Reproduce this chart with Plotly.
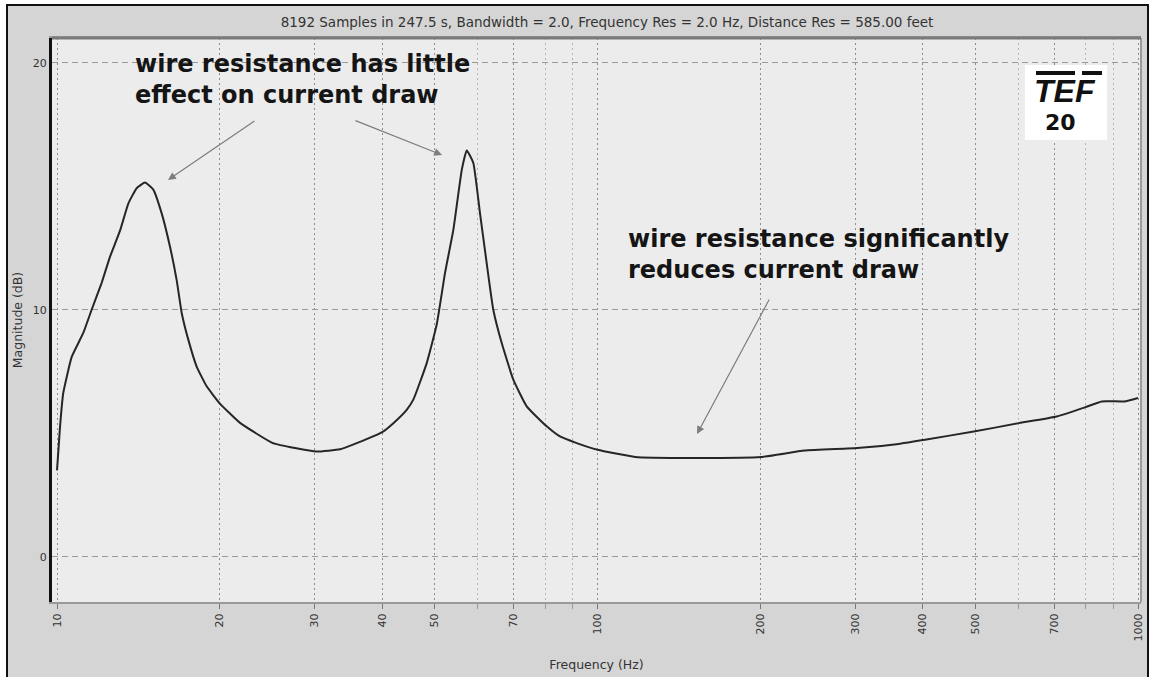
import plotly.graph_objects as go

# ---- data ----
freq_hz = [10.0, 10.13, 10.27, 10.65, 11.19, 11.59, 12.10, 12.54, 13.08, 13.55,
           14.05, 14.55, 15.07, 15.62, 16.18, 16.65, 17.01, 17.50, 18.13, 18.92,
           20.02, 21.81, 25.09, 27.56, 30.23, 33.39, 35.85, 40.11, 41.91, 44.36,
           45.63, 48.31, 50.41, 52.23, 54.12, 56.10, 57.29, 58.92, 60.62, 62.37,
           64.15, 66.50, 69.86, 73.96, 80.54, 85.22, 91.53, 100.0, 117.4, 149.4,
           201.0, 241.6, 302.4, 360.7, 403.6, 496.8, 602.4, 707.0, 798.0, 857.0,
           943.4, 1000.0]
magnitude_db = [3.5, 5.27, 6.63, 8.1, 9.07, 10.0, 11.1, 12.16, 13.2, 14.3,
                14.93, 15.15, 14.86, 13.9, 12.56, 11.2, 9.87, 8.78, 7.7, 6.9,
                6.2, 5.42, 4.6, 4.4, 4.26, 4.35, 4.6, 5.07, 5.41, 5.95,
                6.36, 7.84, 9.4, 11.49, 13.24, 15.67, 16.45, 15.94, 13.9, 11.89,
                10.0, 8.65, 7.17, 6.09, 5.28, 4.87, 4.6, 4.33, 4.04, 4.0,
                4.04, 4.3, 4.4, 4.57, 4.74, 5.07, 5.41, 5.68, 6.05, 6.29,
                6.29, 6.43]

x_tick_vals = [10, 20, 30, 40, 50, 70, 100, 200, 300, 400, 500, 700, 1000]
x_tick_text = ["10", "20", "30", "40", "50", "70", "100", "200", "300", "400", "500", "700", "1000"]
x_minor_vals = [60, 80, 90, 600, 800, 900]
y_tick_vals = [0, 10, 20]
y_tick_text = ["0", "10", "20"]

title_text = ("8192 Samples in 247.5 s, Bandwidth = 2.0, Frequency Res = 2.0 Hz, "
              "Distance Res = 585.00 feet")
note_top = "wire resistance has little<br>effect on current draw"
note_right = "wire resistance significantly<br>reduces current draw"

# ---- geometry helpers (plot area in pixels) ----
W, H = 1151, 677
L, R, T, B = 52, 1141, 38, 602


def px(xp):
    return (xp - L) / (R - L)


def py(yp):
    return (B - yp) / (B - T)


fig = go.Figure()
fig.add_trace(go.Scatter(
    x=freq_hz, y=magnitude_db, mode="lines",
    line=dict(color="#262626", width=2, shape="spline", smoothing=0.4),
    showlegend=False, hoverinfo="x+y",
))

tick_font = dict(family="DejaVu Sans, Arial", size=11, color="#333333")
label_font = dict(family="DejaVu Sans, Arial", size=12.5, color="#333333")

fig.update_layout(
    width=W, height=H,
    margin=dict(l=L, r=W - R, t=T, b=H - B, autoexpand=False),
    paper_bgcolor="#ffffff",
    plot_bgcolor="#ececec",
    title=dict(text=title_text, x=px(607), xref="paper", xanchor="center",
               y=1 - 22 / H, yref="container", yanchor="middle",
               font=dict(family="DejaVu Sans, Arial", size=13.5, color="#333333")),
    xaxis=dict(
        type="log", range=[0.99075, 3.00555],
        tickmode="array", tickvals=x_tick_vals, ticktext=x_tick_text,
        tickangle=-90, tickfont=tick_font,
        ticks="outside", ticklen=5, tickcolor="#777777", tickwidth=1,
        showgrid=True, gridcolor="#8c8c8c", gridwidth=1, griddash="2px,3px",
        minor=dict(tickvals=x_minor_vals, showgrid=True, gridcolor="#b4b4b4",
                   griddash="2px,3px", ticks="outside", ticklen=5, tickcolor="#999999"),
        showline=True, linecolor="#9a9a9a", linewidth=2, mirror=True,
        zeroline=False, automargin=False,
        title=dict(text="Frequency (Hz)", standoff=20, font=label_font),
    ),
    yaxis=dict(
        range=[-1.83, 21.0],
        tickmode="array", tickvals=y_tick_vals, ticktext=y_tick_text,
        tickfont=tick_font, ticks="", ticklabelstandoff=0,
        showgrid=True, gridcolor="#999999", gridwidth=1, griddash="6px,4px",
        showline=True, linecolor="#111111", linewidth=3,
        zeroline=False, automargin=False,
        title=dict(text="Magnitude (dB)", standoff=8, font=label_font),
    ),
)

# outer gray panel with black frame (left, top, right)
fig.add_shape(type="rect", xref="paper", yref="paper", layer="below",
              x0=px(7), x1=px(1148), y0=py(700), y1=py(5),
              fillcolor="#d5d5d5", line=dict(color="#111111", width=2))
# light plot-area background on top of the gray panel
fig.add_shape(type="rect", xref="paper", yref="paper", layer="below",
              x0=0, x1=1, y0=0, y1=1,
              fillcolor="#ececec", line=dict(width=0))
# top and right border of the plot area
fig.add_shape(type="line", xref="paper", yref="paper",
              x0=1, x1=1, y0=0, y1=1, line=dict(color="#9a9a9a", width=2))
fig.add_shape(type="line", xref="paper", yref="paper",
              x0=0, x1=1, y0=1, y1=1, line=dict(color="#7a7a7a", width=3))

# annotations
ann_font = dict(family="DejaVu Sans, Arial", size=24, color="#151515")
fig.add_annotation(xref="paper", yref="paper", x=px(133), y=py(48),
                   xanchor="left", yanchor="top", align="left",
                   text="<b>" + note_top + "</b>", showarrow=False, font=ann_font)
fig.add_annotation(xref="paper", yref="paper", x=px(626), y=py(223),
                   xanchor="left", yanchor="top", align="left",
                   text="<b>" + note_right + "</b>", showarrow=False, font=ann_font)

arrow_style = dict(showarrow=True, arrowhead=2, arrowsize=1.3, arrowwidth=1.2,
                   arrowcolor="#7d7d7d", text="", standoff=0)
fig.add_annotation(xref="paper", yref="paper", x=px(168), y=py(180),
                   ax=88, ay=-60, **arrow_style)
fig.add_annotation(xref="paper", yref="paper", x=px(442), y=py(155),
                   ax=-88, ay=-35, **arrow_style)
fig.add_annotation(xref="paper", yref="paper", x=px(697), y=py(434),
                   ax=73, ay=-136, **arrow_style)

# TEF 20 logo
fig.add_shape(type="rect", xref="paper", yref="paper",
              x0=px(1025), x1=px(1107), y0=py(140), y1=py(65),
              fillcolor="#ffffff", line=dict(width=0))
fig.add_shape(type="line", xref="paper", yref="paper",
              x0=px(1036), x1=px(1075), y0=py(73), y1=py(73),
              line=dict(color="#111111", width=4))
fig.add_shape(type="line", xref="paper", yref="paper",
              x0=px(1082), x1=px(1102), y0=py(73), y1=py(73),
              line=dict(color="#111111", width=4))
fig.add_annotation(xref="paper", yref="paper", x=px(1065), y=py(91),
                   xanchor="center", yanchor="middle", showarrow=False,
                   text="<b><i>TEF</i></b>",
                   font=dict(family="Liberation Sans, Arial", size=32, color="#111111"))
fig.add_annotation(xref="paper", yref="paper", x=px(1060), y=py(122),
                   xanchor="center", yanchor="middle", showarrow=False,
                   text="<b>20</b>",
                   font=dict(family="DejaVu Sans, Arial", size=22, color="#111111"))

fig.write_html("out.html", config={"displayModeBar": False},
               post_script="document.body.style.margin='0';")
